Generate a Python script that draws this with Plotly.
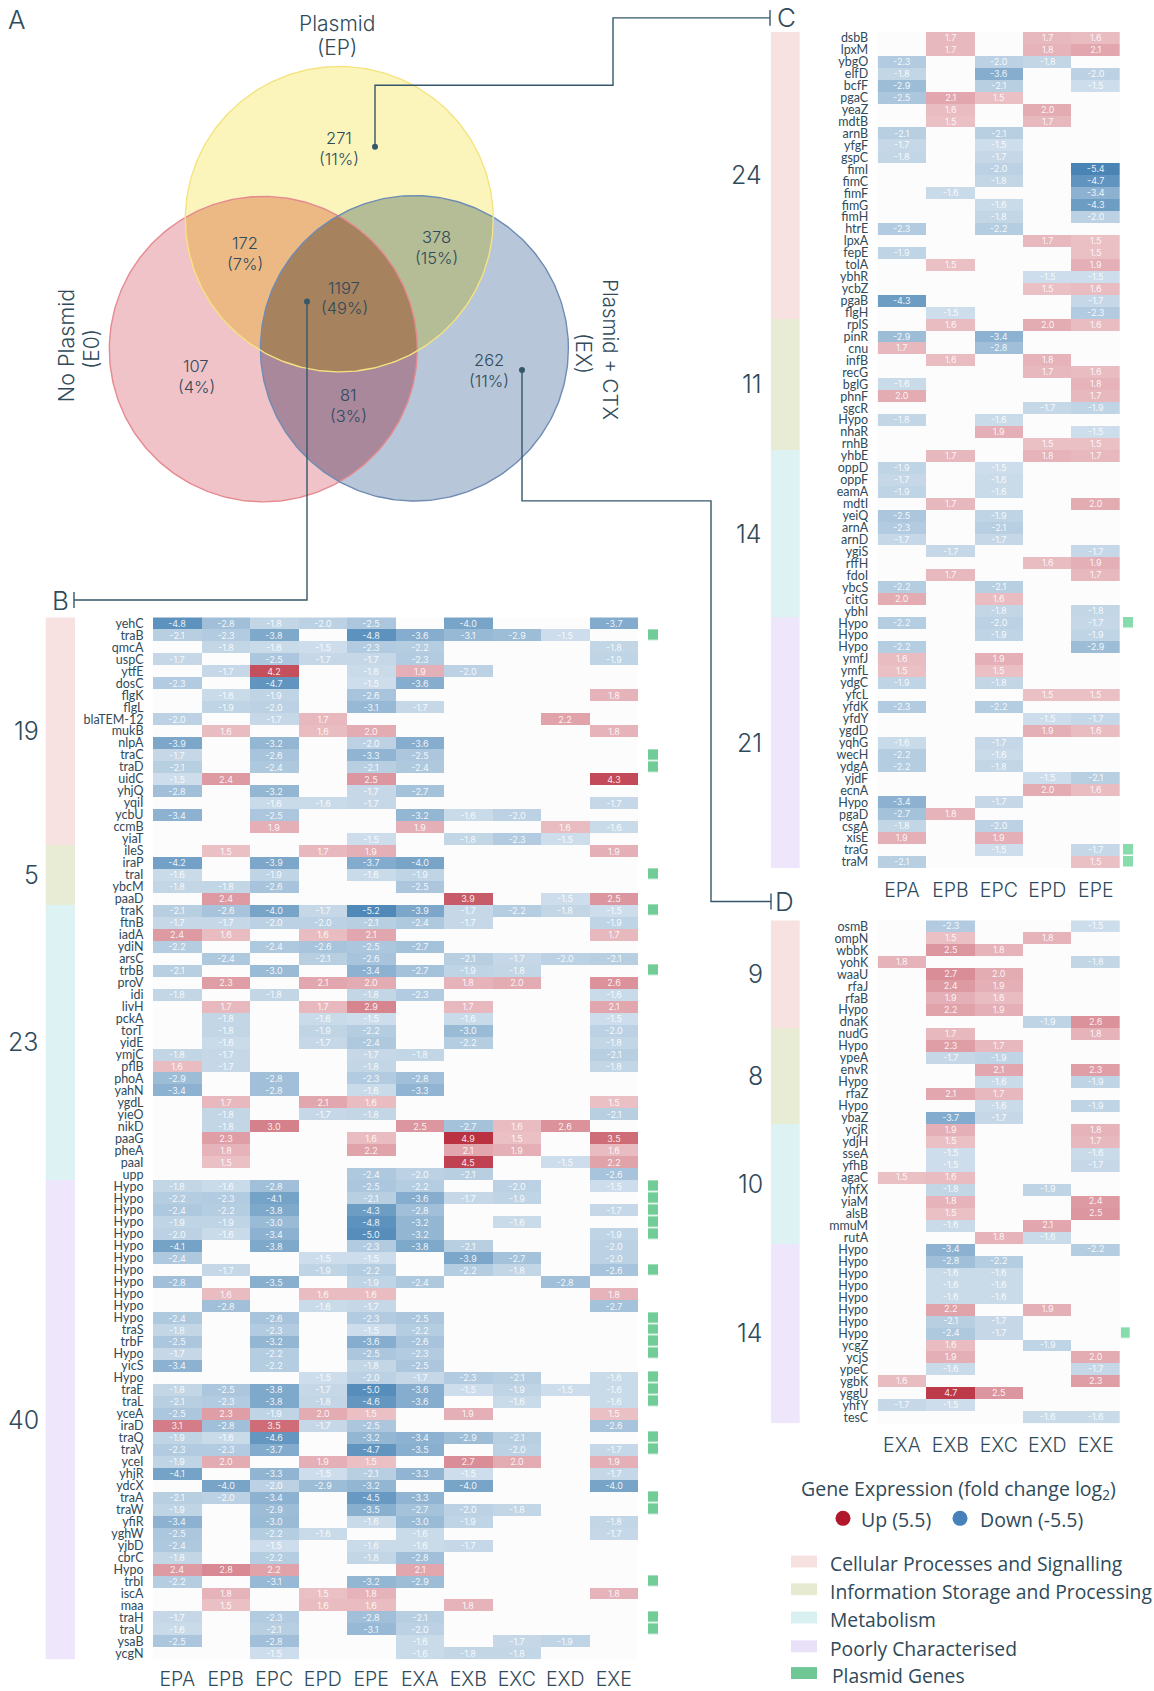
import numpy as np
import plotly.graph_objects as go

W, H = 1154, 1691
_ = None

# --- venn numbers
venn_counts = ["271", "172", "378", "1197", "107", "81", "262"]
venn_pcts = ["(11%)", "(7%)", "(15%)", "(49%)", "(4%)", "(3%)", "(11%)"]
venn_xy = [(339, 136), (245, 242), (436, 236), (344, 287), (196, 366), (348, 395), (489, 360)]

# --- panel B
b_cols = ["EPA", "EPB", "EPC", "EPD", "EPE", "EXA", "EXB", "EXC", "EXD", "EXE"]
b_genes = ["yehC", "traB", "qmcA", "uspC", "ytfE", "dosC", "flgK", "flgL", "blaTEM-12", "mukB",
           "nlpA", "traC", "traD", "uidC", "yhjQ", "yqiI", "ycbU", "ccmB", "yiaT",
           "ileS", "iraP", "traI", "ybcM", "paaD",
           "traK", "ftnB", "iadA", "ydiN", "arsC", "trbB", "proV", "idi", "livH", "pckA", "torT", "yidE",
           "ymjC", "pflB", "phoA", "yahN", "ygdL", "yieO", "nikD", "paaG", "pheA", "paaI", "upp",
           "Hypo", "Hypo", "Hypo", "Hypo", "Hypo", "Hypo", "Hypo", "Hypo", "Hypo", "Hypo", "Hypo", "Hypo",
           "traS", "trbF", "Hypo", "yicS", "Hypo", "traE", "traL", "yceA", "iraD", "traQ", "traV", "yceI",
           "yhjR", "ydcX", "traA", "traW", "yfiR", "yghW", "yjbD", "cbrC", "Hypo", "trbI", "iscA", "maa",
           "traH", "traU", "ysaB", "ycgN"]
b_values = [
    [-4.8, -2.8, -1.8, -2.0, -2.5, _, -4.0, _, _, -3.7],
    [-2.1, -2.3, -3.8, _, -4.8, -3.6, -3.1, -2.9, -1.5, _],
    [_, -1.8, -1.6, -1.5, -2.3, -2.2, _, _, _, -1.8],
    [-1.7, _, -2.5, -1.7, -1.7, -2.3, _, _, _, -1.9],
    [_, -1.7, 4.2, _, -1.6, 1.9, -2.0, _, _, _],
    [-2.3, _, -4.7, _, -1.5, -3.6, _, _, _, _],
    [_, -1.6, -1.9, _, -2.6, _, _, _, _, 1.8],
    [_, -1.9, -2.0, _, -3.1, -1.7, _, _, _, _],
    [-2.0, _, -1.7, 1.7, _, _, _, _, 2.2, _],
    [_, 1.6, _, 1.6, 2.0, _, _, _, _, 1.8],
    [-3.9, _, -3.2, _, -2.0, -3.6, _, _, _, _],
    [-1.7, _, -2.6, _, -3.3, -2.5, _, _, _, _],
    [-2.1, _, -2.4, _, -2.1, -2.4, _, _, _, _],
    [-1.5, 2.4, _, _, 2.5, _, _, _, _, 4.3],
    [-2.8, _, -3.2, _, -1.7, -2.7, _, _, _, _],
    [_, _, -1.6, -1.6, -1.7, _, _, _, _, -1.7],
    [-3.4, _, -2.5, _, _, -3.2, -1.6, -2.0, _, _],
    [_, _, 1.9, _, _, 1.9, _, _, 1.6, -1.6],
    [_, _, _, _, -1.5, _, -1.8, -2.3, -1.5, _],
    [_, 1.5, _, 1.7, 1.9, _, _, _, _, 1.9],
    [-4.2, _, -3.9, _, -3.7, -4.0, _, _, _, _],
    [-1.6, _, -1.9, _, -1.6, -1.9, _, _, _, _],
    [-1.8, -1.8, -2.6, _, _, -2.5, _, _, _, _],
    [_, 2.4, _, _, _, _, 3.9, _, -1.5, 2.5],
    [-2.1, -2.6, -4.0, -1.7, -5.2, -3.9, -1.7, -2.2, -1.8, -1.5],
    [-1.7, -1.7, -2.0, -2.0, -2.1, -2.4, -1.7, _, _, -1.9],
    [2.4, 1.6, _, 1.6, 2.1, _, _, _, _, 1.7],
    [-2.2, _, -2.4, -2.6, -2.5, -2.7, _, _, _, _],
    [_, -2.4, _, -2.1, -2.6, _, -2.1, -1.7, -2.0, -2.1],
    [-2.1, _, -3.0, _, -3.4, -2.7, -1.9, -1.8, _, _],
    [_, 2.3, _, 2.1, 2.0, _, 1.8, 2.0, _, 2.6],
    [-1.8, _, -1.8, _, -1.8, -2.3, _, _, _, -1.6],
    [_, 1.7, _, 1.7, 2.9, _, 1.7, _, _, 2.1],
    [_, -1.8, _, -1.6, -1.5, _, -1.6, _, _, -1.5],
    [_, -1.8, _, -1.9, -2.2, _, -3.0, _, _, -2.0],
    [_, -1.6, _, -1.7, -2.4, _, -2.2, _, _, -1.8],
    [-1.8, -1.7, _, _, -1.7, -1.8, _, _, _, -2.1],
    [1.6, -1.7, _, _, -1.8, _, _, _, _, -1.8],
    [-2.9, _, -2.8, _, -2.3, -2.8, _, _, _, _],
    [-3.4, _, -2.8, _, -1.6, -3.3, _, _, _, _],
    [_, 1.7, _, 2.1, 1.6, _, _, _, _, 1.5],
    [_, -1.8, _, -1.7, -1.8, _, _, _, _, -2.1],
    [_, -1.8, 3.0, _, _, 2.5, -2.7, 1.6, 2.6, _],
    [_, 2.3, _, _, 1.6, _, 4.9, 1.5, _, 3.5],
    [_, 1.8, _, _, 2.2, _, 2.1, 1.9, _, 1.6],
    [_, 1.5, _, _, _, _, 4.5, _, -1.5, 2.2],
    [_, _, _, _, -2.4, -2.0, -2.1, _, _, -2.6],
    [-1.8, -1.6, -2.8, _, -2.5, -2.2, _, -2.0, _, -1.5],
    [-2.2, -2.3, -4.1, _, -2.1, -3.6, -1.7, -1.9, _, _],
    [-2.4, -2.2, -3.8, _, -4.3, -2.8, _, _, _, -1.7],
    [-1.9, -1.9, -3.0, _, -4.8, -3.2, _, -1.6, _, _],
    [-2.0, -1.6, -3.4, _, -5.0, -3.2, _, _, _, -1.9],
    [-4.1, _, -3.8, _, -2.3, -3.8, -2.1, _, _, -2.0],
    [-2.4, _, _, -1.5, -1.5, _, -3.9, -2.7, _, -2.0],
    [_, -1.7, _, -1.9, -2.2, _, -2.2, -1.8, _, -2.6],
    [-2.8, _, -3.5, _, -1.9, -2.4, _, _, -2.8, _],
    [_, 1.6, _, 1.6, 1.6, _, _, _, _, 1.8],
    [_, -2.8, _, -1.6, -1.7, _, _, _, _, -2.7],
    [-2.4, _, -2.6, _, -2.3, -2.5, _, _, _, _],
    [-1.8, _, -2.3, _, -1.5, -2.2, _, _, _, _],
    [-2.5, _, -3.2, _, -3.6, -2.6, _, _, _, _],
    [-1.7, _, -2.2, _, -2.5, -2.3, _, _, _, _],
    [-3.4, _, -2.2, _, -1.8, -2.5, _, _, _, _],
    [_, _, _, -1.5, -2.0, -1.7, -2.3, -2.1, _, -1.6],
    [-1.8, -2.5, -3.8, -1.7, -5.0, -3.6, -1.5, -1.9, -1.5, -1.6],
    [-2.1, -2.3, -3.8, -1.8, -4.6, -3.6, _, -1.6, _, -1.6],
    [-2.5, 2.3, -1.9, 2.0, 1.5, _, 1.9, _, _, 1.5],
    [3.1, -2.8, 3.5, -1.7, -2.5, _, _, _, _, -2.6],
    [-1.9, -1.6, -4.6, _, -3.2, -3.4, -2.9, -2.1, _, _],
    [-2.3, -2.3, -3.7, _, -4.7, -3.5, _, -2.0, _, -1.7],
    [-1.9, 2.0, _, 1.9, 1.5, _, 2.7, 2.0, _, 1.9],
    [-4.1, _, -3.3, -1.5, -2.1, -3.3, -1.5, _, _, -1.7],
    [_, -4.0, -2.0, -2.9, -3.2, _, -4.0, _, _, -4.0],
    [-2.1, -2.0, -3.4, _, -4.5, -3.3, _, _, _, _],
    [-1.9, _, -2.9, _, -3.5, -2.7, -2.0, -1.8, _, _],
    [-3.4, _, -3.0, _, -1.6, -3.0, -1.9, _, _, -1.8],
    [-2.5, _, -2.2, -1.6, _, -1.6, _, _, _, -1.7],
    [-2.4, _, -1.5, _, -1.6, -1.6, -1.7, _, _, _],
    [-1.8, _, -2.2, _, -1.8, -2.8, _, _, _, _],
    [2.4, 2.8, 2.2, _, _, 2.1, _, _, _, _],
    [-2.2, _, -3.1, _, -3.2, -2.9, _, _, _, _],
    [_, 1.8, _, 1.5, 1.8, _, _, _, _, 1.8],
    [_, 1.5, _, 1.6, 1.6, _, 1.8, _, _, _],
    [-1.7, _, -2.3, _, -2.8, -2.1, _, _, _, _],
    [-1.6, _, -2.1, _, -3.1, -2.0, _, _, _, _],
    [-2.5, _, -2.8, _, _, -1.6, _, -1.7, -1.9, _],
    [_, _, -1.5, _, _, -1.6, -1.8, -1.8, _, _],
]
b_counts = [19, 5, 23, 40]
b_labels = ["19", "5", "23", "40"]
b_plasmid = [1, 11, 12, 21, 24, 29, 47, 48, 49, 50, 51, 54, 58, 59, 60, 61, 63, 64, 65, 68, 69, 73, 74, 80, 83, 84]

# --- panel C
c_cols = ["EPA", "EPB", "EPC", "EPD", "EPE"]
c_genes = ["dsbB", "lpxM", "ybgO", "elfD", "bcfF", "pgaC", "yeaZ", "mdtB", "arnB", "yfgF", "gspC", "fimI",
           "fimC", "fimF", "fimG", "fimH", "htrE", "lpxA", "fepE", "tolA", "ybhR", "ycbZ", "pgaB", "flgH",
           "rplS", "pinR", "cnu", "infB", "recG", "bglG", "phnF", "sgcR", "Hypo", "nhaR", "rnhB",
           "yhbE", "oppD", "oppF", "eamA", "mdtI", "yeiQ", "arnA", "arnD", "ygiS", "rffH", "fdoI", "ybcS",
           "citG", "ybhI",
           "Hypo", "Hypo", "Hypo", "ymfJ", "ymfL", "ydgC", "yfcL", "yfdK", "yfdY", "ygdD", "yqhG", "wecH",
           "ydgA", "yjdF", "ecnA", "Hypo", "pgaD", "csgA", "xisE", "traG", "traM"]
c_values = [
    [_, 1.7, _, 1.7, 1.6], [_, 1.7, _, 1.8, 2.1], [-2.3, _, -2.0, -1.8, _], [-1.8, _, -3.6, _, -2.0],
    [-2.9, _, -2.1, _, -1.5], [-2.5, 2.1, 1.5, _, _], [_, 1.6, _, 2.0, _], [_, 1.5, _, 1.7, _],
    [-2.1, _, -2.1, _, _], [-1.7, _, -1.5, _, _], [-1.8, _, -1.7, _, _], [_, _, -2.0, _, -5.4],
    [_, _, -1.8, _, -4.7], [_, -1.6, _, _, -3.4], [_, _, -1.6, _, -4.3], [_, _, -1.8, _, -2.0],
    [-2.3, _, -2.2, _, _], [_, _, _, 1.7, 1.5], [-1.9, _, _, _, 1.5], [_, 1.5, _, _, 1.9],
    [_, _, _, -1.5, -1.5], [_, _, _, 1.5, 1.6], [-4.3, _, _, _, -1.7], [_, -1.5, _, _, -2.3],
    [_, 1.6, _, 2.0, 1.6], [-2.9, _, -3.4, _, _], [1.7, _, -2.8, _, _], [_, 1.6, _, 1.8, _],
    [_, _, _, 1.7, 1.6], [-1.6, _, _, _, 1.8], [2.0, _, _, _, 1.7], [_, _, _, -1.7, -1.9],
    [-1.8, _, -1.6, _, _], [_, _, 1.9, _, -1.5], [_, _, _, 1.5, 1.5],
    [_, 1.7, _, 1.8, 1.7], [-1.9, _, -1.5, _, _], [-1.7, _, -1.6, _, _], [-1.9, _, -1.6, _, _],
    [_, 1.7, _, _, 2.0], [-2.5, _, -1.9, _, _], [-2.3, _, -2.1, _, _], [-1.7, _, -1.7, _, _],
    [_, -1.7, _, _, -1.7], [_, _, _, 1.6, 1.9], [_, 1.7, _, _, 1.7], [-2.2, _, -2.1, _, _],
    [2.0, _, 1.6, _, _], [_, _, -1.8, _, -1.8],
    [-2.2, _, -2.0, _, -1.7], [_, _, -1.9, _, -1.9], [-2.2, _, _, _, -2.9], [1.6, _, 1.9, _, _],
    [1.5, _, 1.5, _, _], [-1.9, _, -1.8, _, _], [_, _, _, 1.5, 1.5], [-2.3, _, -2.2, _, _],
    [_, _, _, -1.5, -1.7], [_, _, _, 1.9, 1.6], [-1.6, _, -1.7, _, _], [-2.2, _, -1.6, _, _],
    [-2.2, _, -1.8, _, _], [_, _, _, -1.5, -2.1], [_, _, _, 2.0, 1.6], [-3.4, _, -1.7, _, _],
    [-2.7, 1.8, _, _, _], [-1.8, _, -2.0, _, _], [1.9, _, 1.9, _, _], [_, _, -1.5, _, -1.7],
    [-2.1, _, _, _, 1.5],
]
c_counts = [24, 11, 14, 21]
c_labels = ["24", "11", "14", "21"]
c_plasmid = [49, 68, 69]

# --- panel D
d_cols = ["EXA", "EXB", "EXC", "EXD", "EXE"]
d_genes = ["osmB", "ompN", "wbbK", "yohK", "waaU", "rfaJ", "rfaB", "Hypo", "dnaK",
           "nudG", "Hypo", "ypeA", "envR", "Hypo", "rfaZ", "Hypo", "ybaZ",
           "ycjR", "ydjH", "sseA", "yfhB", "agaC", "yhfX", "yiaM", "alsB", "mmuM", "rutA",
           "Hypo", "Hypo", "Hypo", "Hypo", "Hypo", "Hypo", "Hypo", "Hypo", "ycgZ", "ycjS", "ypeC", "ygbK",
           "yggU", "yhfY", "tesC"]
d_values = [
    [_, -2.3, _, _, -1.5], [_, 1.5, _, 1.8, _], [_, 2.5, 1.8, _, _], [1.8, _, _, _, -1.8],
    [_, 2.7, 2.0, _, _], [_, 2.4, 1.9, _, _], [_, 1.9, 1.6, _, _], [_, 2.2, 1.9, _, _], [_, _, _, -1.9, 2.6],
    [_, 1.7, _, _, 1.8], [_, 2.3, 1.7, _, _], [_, -1.7, -1.9, _, _], [_, _, 2.1, _, 2.3],
    [_, _, -1.6, _, -1.9], [_, 2.1, 1.7, _, _], [_, _, -1.6, _, -1.9], [_, -3.7, -1.7, _, _],
    [_, 1.9, _, _, 1.8], [_, 1.5, _, _, 1.7], [_, -1.5, _, _, -1.6], [_, -1.5, _, _, -1.7],
    [1.5, 1.6, _, _, _], [_, -1.8, _, -1.9, _], [_, 1.8, _, _, 2.4], [_, 1.5, _, _, 2.5],
    [_, -1.6, _, 2.1, _], [_, _, 1.8, -1.6, _],
    [_, -3.4, _, _, -2.2], [_, -2.8, -2.2, _, _], [_, -1.6, -1.6, _, _], [_, -1.6, -1.6, _, _],
    [_, -1.6, -1.6, _, _], [_, 2.2, _, 1.9, _], [_, -2.1, -1.7, _, _], [_, -2.4, -1.7, _, _],
    [_, 1.6, _, -1.9, _], [_, 1.9, _, _, 2.0], [_, -1.6, _, _, -1.7], [1.6, _, _, _, 2.3],
    [_, 4.7, 2.5, _, _], [-1.7, -1.5, _, _, _], [_, _, _, -1.6, -1.6],
]
d_counts = [9, 8, 10, 15]
d_labels = ["9", "8", "10", "14"]
d_plasmid = [34]

# --- legend text
legend_names = ["Cellular Processes and Signalling", "Information Storage and Processing",
                "Metabolism", "Poorly Characterised", "Plasmid Genes"]
legend_swatches = ["#F7E0E0", "#E6EAD0", "#D9F0F0", "#E9E1F8", "#6FC796"]

INK = "#2F4A5A"
LINE = "#34586A"
TITLE_FONT = dict(family="Inter", color=INK, weight=300)
LABEL_FONT = dict(family="Lato", color=INK)
LEGEND_FONT = dict(family="Open Sans", color=INK)
cat_colors = ["#F8E1E1", "#E8ECD4", "#DDF2F2", "#EEE6FB"]
heat_scale = [[0, "#4682B4"], [0.5, "#FFFFFF"], [1, "#B2182B"]]


def fx(v):
    return v / W


def fy(v):
    return 1 - v / H


def ring(c):
    t = np.linspace(0, 2 * np.pi, 361)
    return c[0] + c[2] * np.cos(t), c[1] + c[2] * np.sin(t)


def overlap(*circles):
    # intersection of discs is convex, so sort the kept outline points by angle
    xs, ys = [], []
    for i, c in enumerate(circles):
        x, y = ring(c)
        keep = np.ones(len(x), bool)
        for j, o in enumerate(circles):
            if i != j:
                keep &= np.hypot(x - o[0], y - o[1]) <= o[2]
        xs.append(x[keep])
        ys.append(y[keep])
    xs, ys = np.concatenate(xs), np.concatenate(ys)
    order = np.argsort(np.arctan2(ys - ys.mean(), xs - xs.mean()))
    return xs[order], ys[order]


fig = go.Figure()
layout = dict(
    xaxis=dict(domain=[0, 1], range=[0, W], visible=False, fixedrange=True),
    yaxis=dict(domain=[0, 1], range=[H, 0], visible=False, fixedrange=True),
)
notes = []


def note(x, y, text, size, font=TITLE_FONT, angle=0, anchor="center"):
    notes.append(dict(x=x, y=y, xref="x", yref="y", text=text, showarrow=False, textangle=angle,
                      xanchor=anchor, yanchor="middle", font=dict(size=size, **font)))


# --- venn
red = (263.3, 350, 154)
yellow = (339.3, 219, 154)
blue = (414.4, 349.2, 154)
fills = [
    (ring(red), "#EFC3C7"), (ring(blue), "#B7C6D8"), (ring(yellow), "#FBF5BC"),
    (overlap(red, yellow), "#ECB984"), (overlap(yellow, blue), "#B4BD95"), (overlap(red, blue), "#A9889C"),
    (overlap(red, yellow, blue), "#A6825F"),
]
for (x, y), color in fills:
    fig.add_trace(go.Scatter(x=x, y=y, mode="lines", fill="toself", fillcolor=color, line=dict(width=0),
                             hoverinfo="skip", showlegend=False))
for c, color in [(red, "#E58A90"), (blue, "#6E8CB4"), (yellow, "#F5E380")]:
    x, y = ring(c)
    fig.add_trace(go.Scatter(x=x, y=y, mode="lines", line=dict(color=color, width=1.4),
                             hoverinfo="skip", showlegend=False))

for (x, y), n, p in zip(venn_xy, venn_counts, venn_pcts):
    note(x, y + 1, n, 16.5)
    note(x, y + 22, p, 16.5)
note(337, 22, "Plasmid", 21)
note(337, 46, "(EP)", 21)
note(66, 347, "No Plasmid", 21.5, angle=-90)
note(91, 350, "(E0)", 21, angle=-90)
note(611, 350, "Plasmid + CTX", 20.5, angle=90)
note(584, 354, "(EX)", 21, angle=90)
note(17, 18, "A", 26)
note(60, 603, "B", 26)
note(786, 16, "C", 26)
note(784, 907, "D", 26)

# --- connectors
connectors = [
    ([375, 375, 613, 613, 770], [146, 84, 84, 16, 16]),
    ([307, 307, 74], [302, 603, 603]),
    ([522, 522, 711, 711, 771], [371, 503, 503, 907, 907]),
]
for x, y in connectors:
    fig.add_trace(go.Scatter(x=x, y=y, mode="lines", line=dict(color=LINE, width=1.4),
                             hoverinfo="skip", showlegend=False))
    fig.add_trace(go.Scatter(x=x[:1], y=y[:1], mode="markers", marker=dict(color=LINE, size=6),
                             hoverinfo="skip", showlegend=False))
for x, y in [(770, 16), (74, 603), (771, 907)]:
    fig.add_trace(go.Scatter(x=[x, x], y=[y - 8, y + 8], mode="lines", line=dict(color=LINE, width=1.4),
                             hoverinfo="skip", showlegend=False))

axis_no = 2


def add_panel(genes, values, cols, counts, labels, plasmid, heat_x, strip_x, green_x, top, bottom, label_x, green,
              xticklen):
    global axis_no
    n = len(genes)
    rows = list(range(n))
    yrange = [n - 0.5, -0.5]
    ydom = [fy(bottom), fy(top)]
    row_h = (bottom - top) / n

    # main heatmap
    k = axis_no
    text = [["" if v is None else f"{v:.1f}" for v in row] for row in values]
    fig.add_trace(go.Heatmap(z=values, x=cols, y=rows, text=text, texttemplate="%{text}",
                             textfont=dict(family="Inter", size=9, color="rgba(255,255,255,0.88)"),
                             colorscale=heat_scale, zmin=-5.5, zmax=5.5, showscale=False,
                             xaxis=f"x{k}", yaxis=f"y{k}", hoverongaps=False))
    layout[f"xaxis{k}"] = dict(domain=[fx(heat_x[0]), fx(heat_x[1])], anchor=f"y{k}", side="bottom",
                               type="category", showgrid=False, zeroline=False, showline=False,
                               ticks="outside", ticklen=xticklen, tickcolor="rgba(0,0,0,0)",
                               tickfont=dict(size=19.5, **TITLE_FONT), fixedrange=True)
    layout[f"yaxis{k}"] = dict(domain=ydom, anchor=f"x{k}", range=yrange, tickmode="array", tickvals=rows,
                               ticktext=genes, showgrid=False, zeroline=False, showline=False,
                               ticks="outside", ticklen=6, tickcolor="rgba(0,0,0,0)",
                               tickfont=dict(size=12.5, **LABEL_FONT), fixedrange=True)
    fig.add_shape(type="rect", xref=f"x{k} domain", yref=f"y{k} domain", x0=0, x1=1, y0=0, y1=1,
                  fillcolor="#FCFCFD", line_width=0, layer="below")

    # category strip
    cats = [[i] for i, c in enumerate(counts) for _r in range(c)]
    k = axis_no + 1
    fig.add_trace(go.Heatmap(z=cats, y=rows, colorscale=[[i / 3, c] for i, c in enumerate(cat_colors)],
                             zmin=0, zmax=3, showscale=False, xaxis=f"x{k}", yaxis=f"y{k}", hoverinfo="skip"))
    layout[f"xaxis{k}"] = dict(domain=[fx(strip_x[0]), fx(strip_x[1])], anchor=f"y{k}", visible=False, fixedrange=True)
    layout[f"yaxis{k}"] = dict(domain=ydom, anchor=f"x{k}", range=yrange, visible=False, fixedrange=True)

    # plasmid gene flags
    flags = [[1] if i in plasmid else [None] for i in rows]
    k = axis_no + 2
    fig.add_trace(go.Heatmap(z=flags, y=rows, colorscale=[[0, green], [1, green]], zmin=0, zmax=1, ygap=1.5,
                             showscale=False, xaxis=f"x{k}", yaxis=f"y{k}", hoverinfo="skip"))
    layout[f"xaxis{k}"] = dict(domain=[fx(green_x[0]), fx(green_x[1])], anchor=f"y{k}", visible=False, fixedrange=True)
    layout[f"yaxis{k}"] = dict(domain=ydom, anchor=f"x{k}", range=yrange, visible=False, fixedrange=True)
    axis_no += 3

    # counts beside the strip
    start = top
    for c, lab in zip(counts, labels):
        note(label_x, start + c * row_h / 2, lab, 25, anchor="right")
        start += c * row_h


add_panel(b_genes, b_values, b_cols, b_counts, b_labels, b_plasmid, (153, 638), (45.5, 75), (648, 658),
          620.5, 1671, 41, "#72CC97", 2)
add_panel(c_genes, c_values, c_cols, c_counts, c_labels, c_plasmid, (877.7, 1120), (770.7, 800), (1123, 1133),
          30.2, 873.2, 764, "#86DCAB", 5)
add_panel(d_genes, d_values, d_cols, d_counts, d_labels, d_plasmid, (877.7, 1120), (770.7, 800), (1120.7, 1130),
          926, 1433, 765, "#86DCAB", 4)

# --- legend
note(958, 1500, "Gene Expression (fold change log<sub>2</sub>)", 19.5, font=LEGEND_FONT)
fig.add_trace(go.Scatter(x=[843, 960], y=[1529, 1529], mode="markers",
                         marker=dict(size=15, color=["#B2182B", "#4682B9"]), hoverinfo="skip", showlegend=False))
note(859, 1530, "Up (5.5)", 19.5, font=LEGEND_FONT, anchor="left")
note(978, 1530, "Down (-5.5)", 19.5, font=LEGEND_FONT, anchor="left")
legend_y = [1572.5, 1600.5, 1629, 1658, 1685]
for y, name, color in zip(legend_y, legend_names, legend_swatches):
    fig.add_shape(type="rect", xref="x", yref="y", x0=791, x1=817, y0=y - 6, y1=y + 6, fillcolor=color, line_width=0)
    note(830 if name == "Plasmid Genes" else 828, y + 2, name, 19.3, font=LEGEND_FONT, anchor="left")

fig.update_layout(width=W, height=H, margin=dict(l=0, r=0, t=0, b=0), paper_bgcolor="white",
                  plot_bgcolor="rgba(0,0,0,0)", showlegend=False, annotations=notes, **layout)

fig.write_html("out.html", config={"displayModeBar": False},
               post_script="document.body.style.margin='0';document.body.style.overflow='hidden';")
